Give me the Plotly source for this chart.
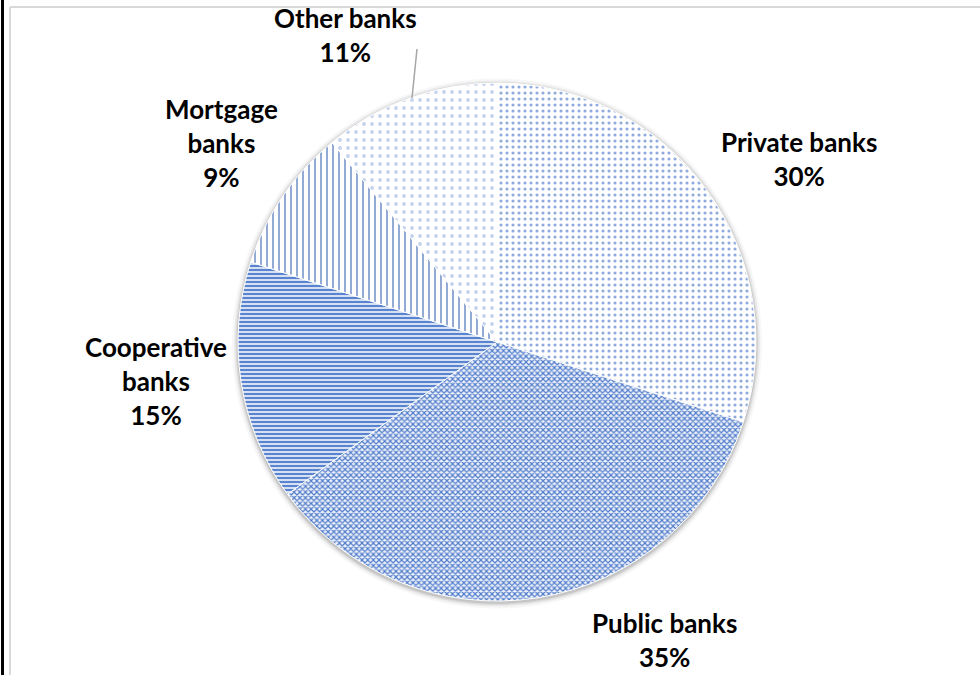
import plotly.graph_objects as go

# ---- data ----
categories = ["Private banks", "Public banks", "Cooperative banks", "Mortgage banks", "Other banks"]
shares = [30, 35, 15, 9, 11]
label_lines = ["Private banks", "Public banks", "Cooperative<br>banks", "Mortgage<br>banks", "Other banks"]

W, H = 980, 675
cx, cy, r = 497, 342, 259  # pie centre / radius in pixels


def px(x):
    return x / W


def py(y):
    return 1 - y / H


def dom(rad):
    return dict(x=[px(cx - rad), px(cx + rad)], y=[py(cy + rad), py(cy - rad)])


fig = go.Figure()

# soft shadow rings behind the pie
for i, (dr, op) in enumerate([(6, 0.03), (4, 0.05), (2.5, 0.07), (1.2, 0.09)]):
    d = dom(r + dr)
    d["y"] = [d["y"][0] - 1.5 / H, d["y"][1] - 1.5 / H]
    fig.add_trace(go.Pie(values=[1], labels=["s%d" % i], domain=d, sort=False,
                         marker=dict(colors=["rgba(0,0,0,%s)" % op], line=dict(width=0)),
                         textinfo="none", hoverinfo="skip", showlegend=False))

fig.add_trace(go.Pie(
    labels=categories,
    values=shares,
    sort=False,
    direction="clockwise",
    rotation=0,
    domain=dom(r),
    textinfo="none",
    hoverinfo="label+percent",
    showlegend=False,
    marker=dict(
        colors=["white"] * 5,
        line=dict(color="white", width=1),
        pattern=dict(
            shape=[".", "x", "-", "|", "."],
            fgcolor=["#8FAADC", "#4F7BCB", "#5B84D0", "#4A72B8", "#C3D2EE"],
            bgcolor=["white", "#EEF2FA", "#D6E0F3", "white", "white"],
            size=[6, 4, 4, 6, 8],
            solidity=[0.22, 0.5, 0.5, 0.2, 0.18],
            fillmode="replace",
        ),
    ),
))

# ---- labels (Excel-like best-fit positions) ----
label_pos = {
    "Private banks": (799, 159),
    "Public banks": (664, 640),
    "Cooperative banks": (156, 381),
    "Mortgage banks": (221, 143),
    "Other banks": (345, 35),
}
total = sum(shares)
for cat, txt, v in zip(categories, label_lines, shares):
    x, y = label_pos[cat]
    fig.add_annotation(
        x=px(x), y=py(y), xref="paper", yref="paper",
        text="<b>%s<br>%d%%</b>" % (txt, round(100 * v / total)),
        showarrow=False, align="center",
        font=dict(family="Lato, Liberation Sans, sans-serif", size=26, color="#000000"),
        xanchor="center", yanchor="middle",
    )

# leader line for "Other banks"
fig.add_shape(type="line", xref="paper", yref="paper",
              x0=px(417), y0=py(49), x1=px(412), y1=py(98),
              line=dict(color="#A6A6A6", width=1.5))

# chart border (gray) and black edge
fig.add_shape(type="line", xref="paper", yref="paper",
              x0=px(10), y0=py(7), x1=1.0, y1=py(7),
              line=dict(color="#D9D9D9", width=2))
fig.add_shape(type="line", xref="paper", yref="paper",
              x0=px(10), y0=py(7), x1=px(10), y1=0,
              line=dict(color="#D9D9D9", width=2))
fig.add_shape(type="line", xref="paper", yref="paper",
              x0=px(2.5), y0=1, x1=px(2.5), y1=0,
              line=dict(color="#000000", width=3))

fig.update_layout(
    width=W, height=H,
    margin=dict(l=0, r=0, t=0, b=0),
    paper_bgcolor="white",
    plot_bgcolor="white",
)

fig.write_html(
    "out.html",
    config={"displayModeBar": False},
    post_script="document.body.style.margin='0';document.body.style.padding='0';document.body.style.overflow='hidden';",
)
